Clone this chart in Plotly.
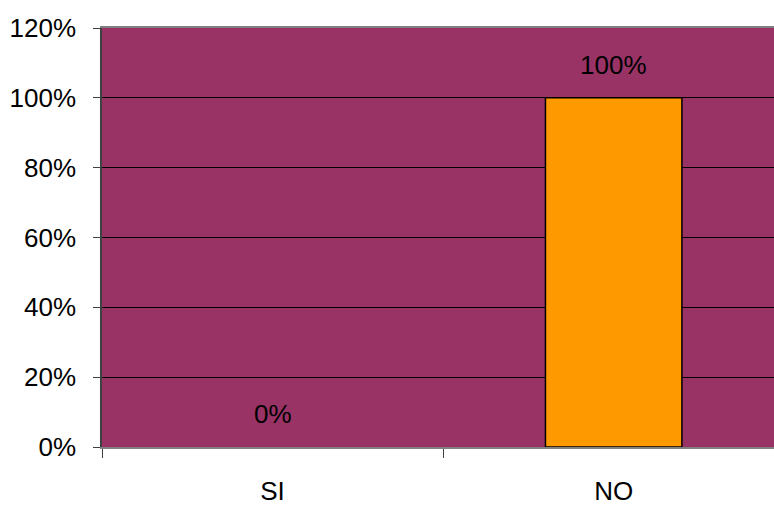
import plotly.graph_objects as go

categories = ["SI", "NO"]
values = [0.0, 1.0]
value_labels = ["0%", "100%"]
y_ticks = [0, 0.2, 0.4, 0.6, 0.8, 1.0, 1.2]
y_tick_labels = ["0%", "20%", "40%", "60%", "80%", "100%", "120%"]

FONT = "Liberation Sans, Arial, sans-serif"

fig = go.Figure()
fig.add_trace(go.Bar(
    x=categories, y=values,
    marker=dict(color="#FF9900",
                line=dict(color="black", width=[0 if v == 0 else 1.5 for v in values])),
    width=0.4,
    showlegend=False,
))

for c, v, t in zip(categories, values, value_labels):
    fig.add_annotation(x=c, y=v, text=t, showarrow=False, yshift=33,
                       font=dict(family=FONT, size=26, color="black"))

fig.update_layout(
    width=774, height=506,
    margin=dict(l=102, r=0, t=28, b=55),
    paper_bgcolor="white",
    plot_bgcolor="#993366",
    font=dict(family=FONT, size=26, color="black"),
)
fig.update_xaxes(
    type="category", range=[-0.5, 1.47],
    tickson="boundaries", ticks="outside", ticklen=9, tickcolor="#404040",
    showgrid=False, showline=True, mirror=True, linecolor="#808080", linewidth=1.5,
    ticklabelstandoff=20, tickfont=dict(size=26),
)
fig.update_yaxes(
    range=[0, 1.2], tickvals=y_ticks, ticktext=y_tick_labels,
    ticks="outside", ticklen=7, tickcolor="#404040",
    showgrid=True, gridcolor="black", gridwidth=1,
    showline=True, linecolor="#404040", linewidth=1.5,
    zeroline=False, ticklabelstandoff=12, tickfont=dict(size=26),
)

fig.write_html(
    "out.html",
    config={"displayModeBar": False},
    post_script="document.body.style.margin='0';document.body.style.overflow='hidden';",
)
